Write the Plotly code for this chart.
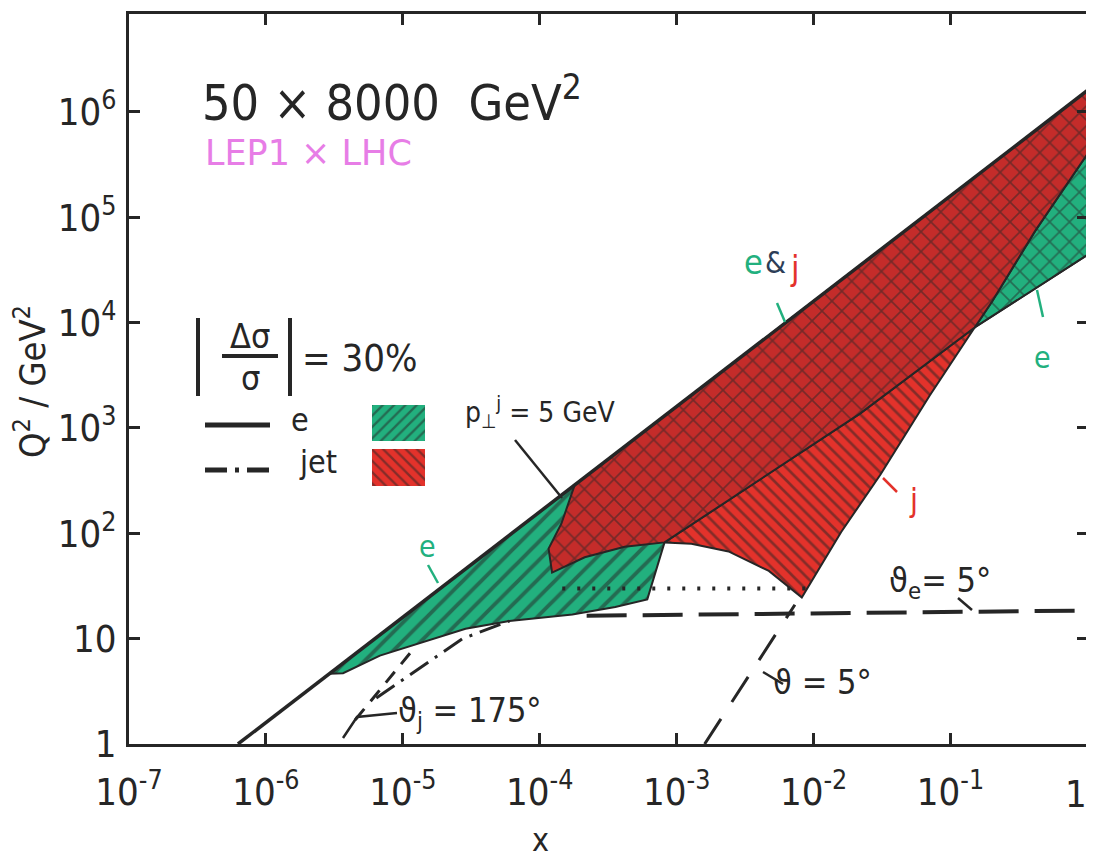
import plotly.graph_objects as go

# ---------------- data ----------------
# kinematic limit (solid upper line), Q2 = s*x
kin_x = [6.25e-7, 1.0]
kin_q2 = [1.0, 1.6e6]

# electron-method region (green, |dsigma/sigma| < 30%)
e_x = [2.9e-6, 1.0, 1.0, 0.15, 0.0218, 8.15e-4, 6.1e-4, 3.56e-4, 1.73e-4,
       6.0e-5, 2.87e-5, 1.4e-5, 6.8e-6, 3.66e-6]
e_q2 = [4.64, 1.6e6, 4.4e4, 9000, 1370, 82, 23.6, 20, 17,
        14.7, 12.4, 9.2, 6.9, 4.7]

# electron-only wedge at large x (green, cross hatched)
w_x = [0.15, 1.0, 1.0, 0.413, 0.2]
w_q2 = [9000, 4.4e4, 4.0e5, 73500, 15700]

# jet-only region (red, single hatched)
jo_x = [8.15e-4, 1.28e-3, 2.39e-3, 4.71e-3, 8.2e-3, 0.0159, 0.0308, 0.0703, 0.15, 0.0218]
jo_q2 = [82, 79.5, 67.3, 44, 24.6, 103, 362, 2020, 9000, 1370]

# overlap e & jet region (red, cross hatched)
ov_x = [1.8e-4, 1.0, 1.0, 0.413, 0.2, 0.15, 0.0218, 8.15e-4, 4.17e-4, 2.13e-4,
        1.23e-4, 1.16e-4, 1.44e-4]
ov_q2 = [288, 1.6e6, 4.0e5, 73500, 15700, 9000, 1370, 82, 74.6, 59.3,
         42.4, 71.6, 124]

# theta_e = 5 deg (dashed, nearly horizontal)
the_x = [2.2e-4, 1.0]
the_q2 = [16.5, 18.5]

# dotted line
dot_x = [1.46e-4, 0.0106]
dot_q2 = [30, 30]

# theta = 5 deg jet line below the jet region (dashed)
tj5_x = [1.6e-3, 7.3e-3]
tj5_q2 = [1.0, 21]

# theta_j = 175 deg (dash-dot) and companion dashed line
tj175_x = [6.4e-6, 2.73e-5, 6.0e-5]
tj175_q2 = [2.74, 10, 14.7]
aux_x = [4.5e-6, 1.15e-5]
aux_q2 = [1.7, 7.5]

x_tick_vals = [1e-7, 1e-6, 1e-5, 1e-4, 1e-3, 1e-2, 1e-1, 1]
x_tick_text = ["10<sup>-7</sup>", "10<sup>-6</sup>", "10<sup>-5</sup>", "10<sup>-4</sup>",
               "10<sup>-3</sup>", "10<sup>-2</sup>", "10<sup>-1</sup>", "1"]
y_tick_vals = [1, 10, 1e2, 1e3, 1e4, 1e5, 1e6]
y_tick_text = ["1", "10", "10<sup>2</sup>", "10<sup>3</sup>", "10<sup>4</sup>",
               "10<sup>5</sup>", "10<sup>6</sup>"]

# ---------------- styling ----------------
INK = "#262626"
GREEN = "#22b07e"
RED = "#e3322b"
DARKRED = "#c42c2a"
MAGENTA = "#e77de6"
NAVY = "#2d3e57"
FONT = "DejaVu Sans Condensed, DejaVu Sans, sans-serif"
WIDEFONT = "DejaVu Sans, sans-serif"
TICKSIZE = 38

fig = go.Figure()


def region(xs, ys, bg, shape, size, sol, lw=2.0):
    fig.add_trace(go.Scatter(
        x=xs + [xs[0]], y=ys + [ys[0]], mode="lines", fill="toself",
        fillcolor=bg,
        fillpattern=dict(shape=shape, bgcolor=bg, fgcolor=INK, size=size, solidity=sol),
        line=dict(color=INK, width=lw), hoverinfo="skip", showlegend=False))


def line(xs, ys, width=3, dash="solid", color=INK):
    fig.add_trace(go.Scatter(x=xs, y=ys, mode="lines",
                             line=dict(color=color, width=width, dash=dash),
                             hoverinfo="skip", showlegend=False))


region(e_x, e_q2, GREEN, "/", 13, 0.3)
region(w_x, w_q2, GREEN, "x", 14, 0.22)
region(jo_x, jo_q2, RED, "\\", 9, 0.3)
region(ov_x, ov_q2, DARKRED, "x", 14, 0.22)

line(kin_x, kin_q2, width=3.5)
line(the_x, the_q2, width=4, dash="40px,16px")
line(dot_x, dot_q2, width=4, dash="3px,12px")
line(tj5_x, tj5_q2, width=3, dash="30px,20px")
line(tj175_x, tj175_q2, width=3, dash="22px,8px,3px,8px")
line(aux_x, aux_q2, width=3, dash="14px,10px")

# ---------------- decorations (positions in page pixels) ----------------
PAGE_W, PAGE_H = 1094, 865
OFF = 8                       # default page body margin offsets the figure
L, R, T, B = 129, 1088, 14, 744   # plot frame in page pixels


def px(x):
    return (x - L) / (R - L)


def py(y):
    return (B - y) / (B - T)


def pshape(x0, y0, x1, y1, color=INK, width=3, dash="solid"):
    fig.add_shape(type="line", xref="paper", yref="paper",
                  x0=px(x0), y0=py(y0), x1=px(x1), y1=py(y1),
                  line=dict(color=color, width=width, dash=dash))


def ptext(x, y, text, size=30, color=INK, xanchor="center", angle=0, family=FONT):
    fig.add_annotation(xref="paper", yref="paper", x=px(x), y=py(y), text=text,
                       showarrow=False, font=dict(family=family, size=size, color=color),
                       xanchor=xanchor, yanchor="middle", textangle=angle)


def pbox(x0, y0, x1, y1, bg, shape):
    fig.add_trace(go.Scatter(
        x=[x0, x1, x1, x0, x0], y=[y0, y0, y1, y1, y0], xaxis="x2", yaxis="y2",
        mode="lines", fill="toself", fillcolor=bg,
        fillpattern=dict(shape=shape, bgcolor=bg, fgcolor=INK, size=8, solidity=0.3),
        line=dict(width=0, color=bg), hoverinfo="skip", showlegend=False))


# title texts
ptext(200, 100, "50 × 8000  GeV<sup>2</sup>", size=50, xanchor="left")
ptext(203, 153, "LEP1 × LHC", size=35, color=MAGENTA, xanchor="left", family=WIDEFONT)

# |dsigma/sigma| = 30 %
pshape(198, 318, 198, 396, width=4)
pshape(290, 318, 290, 396, width=4)
pshape(222, 356, 278, 356, width=4)
ptext(250, 336, "Δσ", size=34)
ptext(250, 378, "σ", size=34)
ptext(300, 358, "= 30%", size=38, xanchor="left")

# legend
pshape(205, 425, 270, 425, width=5)
ptext(300, 420, "e", size=32)
pbox(372, 405, 425, 441, GREEN, "/")
pshape(205, 470, 272, 470, width=5, dash="22px,8px,4px,8px")
ptext(318, 462, "jet", size=32)
pbox(372, 449, 425, 486, RED, "\\")

# annotations on the plot
ptext(540, 412, "p<sub>⊥</sub><sup>j</sup> = 5 GeV", size=28)
pshape(515, 440, 562, 498, width=2.5)

ptext(427, 546, "e", size=30, color=GREEN)
pshape(428, 565, 438, 583, color=GREEN, width=2.5)

ptext(753, 262, "e", size=34, color=GREEN)
ptext(775, 262, "&", size=30, color=NAVY)
ptext(795, 268, "j", size=34, color=RED)
pshape(777, 303, 785, 322, color=GREEN, width=2.5)

ptext(1042, 357, "e", size=30, color=GREEN)
pshape(1037, 290, 1043, 317, color=GREEN, width=2.5)

ptext(913, 500, "j", size=32, color=RED)
pshape(883, 478, 897, 492, color=RED, width=2.5)

ptext(940, 582, "ϑ<sub>e</sub>= 5°", size=34)
pshape(958, 598, 972, 610, width=2.5)

ptext(822, 682, "ϑ = 5°", size=34)
pshape(763, 672, 783, 684, width=2.5)

ptext(470, 712, "ϑ<sub>j</sub> = 175°", size=34)
fig.add_shape(type="path", xref="x2", yref="y2",
              path="M 343 738 L 357 717 L 397 713", line=dict(color=INK, width=2.5))

# axis titles
ptext(30, 382, "Q<sup>2</sup> / GeV<sup>2</sup>", size=36, angle=-90)
ptext(540, 840, "x", size=32)

# the last x tick label ("1") sits at the right page edge; draw it just inside
ptext(1076, 794, x_tick_text[-1], size=TICKSIZE)
x_tick_text_axis = x_tick_text[:-1] + [""]

axis_common = dict(showgrid=False, zeroline=False, showline=True, linecolor=INK,
                   linewidth=3, mirror="ticks", ticks="inside", ticklen=11,
                   tickwidth=2.5, tickcolor=INK, ticklabeloverflow="allow",
                   automargin=False,
                   tickfont=dict(family=FONT, size=TICKSIZE, color=INK))

fig.update_layout(
    width=PAGE_W - OFF, height=PAGE_H - OFF,
    margin=dict(l=L - OFF, r=PAGE_W - R, t=T - OFF, b=PAGE_H - B, autoexpand=False),
    paper_bgcolor="white", plot_bgcolor="white",
    showlegend=False,
    xaxis=dict(type="log", range=[-7, 0.004], tickvals=x_tick_vals,
               ticktext=x_tick_text_axis, ticklabelstandoff=12, **axis_common),
    yaxis=dict(type="log", range=[0, 6.93], tickvals=y_tick_vals, ticktext=y_tick_text,
               ticklabelstandoff=2, **axis_common),
    xaxis2=dict(overlaying="x", range=[L, R], visible=False, anchor="y2", fixedrange=True),
    yaxis2=dict(overlaying="y", range=[B, T], visible=False, anchor="x2", fixedrange=True),
)

fig.write_html("out.html")
